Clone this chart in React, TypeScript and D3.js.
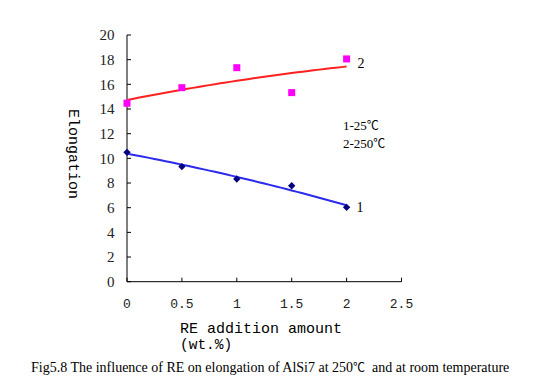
import React from "react";
import * as d3 from "d3";

const xValues = [0, 0.5, 1, 1.5, 2];
const series250 = [14.47, 15.73, 17.35, 15.33, 18.06];
const series25 = [10.49, 9.33, 8.33, 7.78, 6.03];
const xTicks = [0, 0.5, 1, 1.5, 2, 2.5];
const yTicks = [0, 2, 4, 6, 8, 10, 12, 14, 16, 18, 20];
const legendLines = ["1-25", "2-250"];
const seriesLabels = ["1", "2"];
const xTitle = ["RE addition amount", "(wt.%)"];
const yTitle = "Elongation";
const captionA = "Fig5.8 The influence of RE on elongation of AlSi7 at 250";
const captionB = "  and at room temperature";
const degC = "℃";

// quadratic least-squares trendline (like a spreadsheet order-2 trendline)
function quadFit(xs: number[], ys: number[]) {
  const mx = d3.mean(xs) as number;
  const ts = xs.map(v => v - mx);
  const n = xs.length;
  const s2 = d3.sum(ts, t => t * t);
  const s4 = d3.sum(ts, t => t ** 4);
  const s3 = d3.sum(ts, t => t ** 3);
  const sy = d3.sum(ys);
  const sty = d3.sum(ts.map((t, i) => t * ys[i]));
  const st2y = d3.sum(ts.map((t, i) => t * t * ys[i]));
  // symmetric t => s1 = s3 = 0
  const c1 = (sty - 0 * s3) / s2;
  const c2 = (n * st2y - s2 * sy) / (n * s4 - s2 * s2);
  const c0 = (sy - c2 * s2) / n;
  return (v: number) => { const t = v - mx; return c0 + c1 * t + c2 * t * t; };
}

export default function App() {
  const W = 546, H = 390;
  const x = d3.scaleLinear().domain([0, 2.5]).range([127, 401.5]);
  const y = d3.scaleLinear().domain([0, 20]).range([281.7, 35]);
  const f250 = quadFit(xValues, series250);
  const f25 = quadFit(xValues, series25);
  const line = d3.line<number[]>().x(d => x(d[0])).y(d => y(d[1]));
  const fitPts = (f: (v: number) => number) => d3.range(0, 2.0001, 0.05).map(v => [v, f(v)]);
  const serif = "'Liberation Serif', 'Times New Roman', serif";
  const mono = "'Liberation Mono', monospace";
  const cjk = "'Noto Sans CJK SC', sans-serif";
  return (
    <svg width={W} height={H} style={{ position: "absolute", left: 0, top: 0, background: "#fff" }}>
      <line x1={x(0)} x2={x(0)} y1={y(20)} y2={y(0)} stroke="#000" strokeWidth={1} />
      <line x1={x(0)} x2={x(2.5)} y1={y(0)} y2={y(0)} stroke="#000" strokeWidth={1} />
      {yTicks.map(t => (
        <g key={"y" + t}>
          <line x1={x(0)} x2={x(0) + 4} y1={y(t)} y2={y(t)} stroke="#000" />
          <text x={114.5} y={y(t)} dy="0.35em" textAnchor="end" fontFamily={serif} fontSize={15} fill="#222">{t}</text>
        </g>
      ))}
      {xTicks.map(t => (
        <g key={"x" + t}>
          <line x1={x(t)} x2={x(t)} y1={y(0)} y2={y(0) - 4} stroke="#000" />
          <text x={x(t)} y={303} dy="0.35em" textAnchor="middle" fontFamily={mono} fontSize={13} fill="#222">{t}</text>
        </g>
      ))}
      <path d={line(fitPts(f250) as any) || ""} stroke="#ff2020" strokeWidth={2} fill="none" />
      <path d={line(fitPts(f25) as any) || ""} stroke="#2b2bee" strokeWidth={2} fill="none" />
      {xValues.map((v, i) => (
        <rect key={"s" + i} x={x(v) - 3.5} y={y(series250[i]) - 3.5} width={7} height={7} fill="#ff00ff" />
      ))}
      {xValues.map((v, i) => (
        <rect key={"d" + i} x={-2.6} y={-2.6} width={5.2} height={5.2} fill="#000080"
          transform={`translate(${x(v)},${y(series25[i])}) rotate(45)`} />
      ))}
      <text x={x(2) + 10} y={y(series25[4])} dy="0.35em" fontFamily={serif} fontSize={14} fill="#000">{seriesLabels[0]}</text>
      <text x={x(2) + 11} y={y(series250[4]) + 4} dy="0.35em" fontFamily={serif} fontSize={14} fill="#000">{seriesLabels[1]}</text>
      {legendLines.map((s, i) => (
        <text key={s} x={343} y={125 + i * 18} dy="0.35em" fontFamily={serif} fontSize={13} fill="#000">
          {s}<tspan fontFamily={cjk} fontSize={12}>{degC}</tspan>
        </text>
      ))}
      <text transform={`translate(74.5,154) rotate(90)`} textAnchor="middle" dy="0.35em" fontFamily={mono} fontSize={15} fill="#000">{yTitle}</text>
      <text x={180} y={328} dy="0.35em" fontFamily={mono} fontSize={15} fill="#000">{xTitle[0]}</text>
      <text x={180} y={344} dy="0.35em" fontFamily={mono} fontSize={14.5} fill="#000">{xTitle[1]}</text>
      <text x={31} y={367} dy="0.35em" fontFamily={serif} fontSize={14} fill="#000" style={{ whiteSpace: "pre" }}>
        {captionA}<tspan fontFamily={cjk} fontSize={12}>{degC}</tspan>{captionB}
      </text>
    </svg>
  );
}
